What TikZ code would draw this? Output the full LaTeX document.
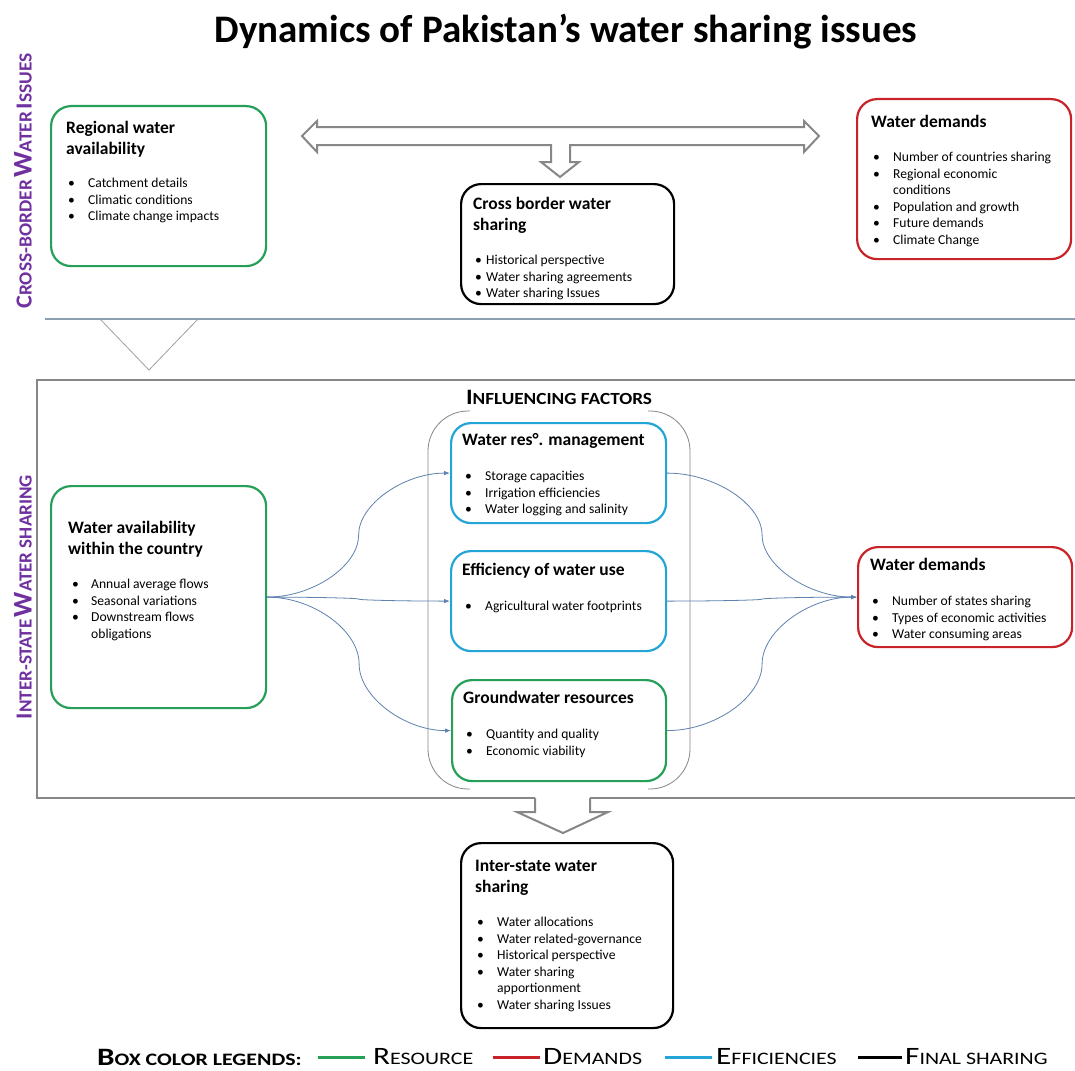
\documentclass[tikz,border=0pt]{standalone}
\usepackage{fontspec}
\usepackage{graphicx}
\setmainfont{Carlito}
\usetikzlibrary{arrows.meta,calc}
\definecolor{cgreen}{RGB}{38,160,88}
\definecolor{cred}{RGB}{200,35,40}
\definecolor{ccyan}{RGB}{35,165,215}
\definecolor{cpurple}{RGB}{112,48,160}
\definecolor{cgray}{RGB}{135,135,135}
\definecolor{cline}{RGB}{95,130,175}
\definecolor{csep}{RGB}{140,160,178}
\newcommand{\capsz}[2]{{\fontsize{#1}{#1}\selectfont #2}}
\newcommand{\xs}[2]{\scalebox{#1}[1]{#2}}
\newcommand{\blist}[2]{\begin{tabular}[t]{@{}p{#1}@{}l@{}}#2\end{tabular}}
\newcommand{\tlines}[1]{\begin{tabular}[t]{@{}l@{}}#1\end{tabular}}
\tikzset{
  box/.style={draw=#1, line width=2.2pt, rounded corners=20pt, fill=white, inner sep=0pt, anchor=north west},
  ttl/.style={anchor=base west, inner sep=0pt, font=\fontsize{17.5}{21}\selectfont\bfseries},
  lst/.style={anchor=base west, inner sep=0pt, font=\fontsize{13.6}{16.5}\selectfont},
  conn/.style={draw=cline, line width=0.8pt, -{Latex[length=6pt,width=4.5pt]}},
  blockarrow/.style={draw=cgray, line width=2pt, fill=white, line join=miter},
  legline/.style={line width=3pt},
  pptcurve/.style={to path={let \p1=(\tikztostart), \p2=(\tikztotarget) in
    .. controls ({(3*\x1+\x2)/4},\y1) and ({(\x1+\x2)/2},{(3*\y1+\y2)/4}) .. ({(\x1+\x2)/2},{(\y1+\y2)/2})
    .. controls ({(\x1+\x2)/2},{(\y1+3*\y2)/4}) and ({(\x1+3*\x2)/4},\y2) .. (\tikztotarget)}}
}
\begin{document}
\begin{tikzpicture}[x=1pt,y=-1pt]
\useasboundingbox (0,0) rectangle (1075,1070);
\clip (0,0) rectangle (1075,1070);
\fill[white] (0,0) rectangle (1075,1070);

% title
\node[font=\fontsize{39}{39}\selectfont\bfseries] (title) at (566,32) {Dynamics of Pakistan’s water sharing issues};

% side labels
\node[rotate=90, font=\bfseries, text=cpurple, inner sep=0pt] (lblcb) at (23,181)
  {\xs{1.05}{\capsz{23}{C}\capsz{18.5}{ROSS-BORDER} \capsz{27}{W}\capsz{18.5}{ATER} \capsz{23}{I}\capsz{18.5}{SSUES}}};
\node[rotate=90, font=\bfseries, text=cpurple, inner sep=0pt] (lblis) at (23,597)
  {\xs{1.03}{\capsz{23}{I}\capsz{18.5}{NTER-STATE} \capsz{27}{W}\capsz{18.5}{ATER SHARING}}};

% separator line and open triangle
\draw[csep, line width=1.2pt] (45,319) -- (1080,319);
\draw[cgray!80, line width=0.8pt] (100,319) -- (149,370) -- (198,319);

% big frame with down block arrow
\draw[blockarrow, fill=none] (535,798) -- (37,798) -- (37,380) -- (1085,380) -- (1085,798) -- (590,798);
\draw[blockarrow] (535,798) -- (535,812) -- (517,812) -- (563,833) -- (608,812) -- (590,812) -- (590,798);

% top double block arrow
\draw[blockarrow] (302,136) -- (317,121) -- (317,127) -- (804,127) -- (804,121) -- (819,136) -- (804,152)
  -- (804,145) -- (570,145) -- (570,162) -- (579,162) -- (560,177) -- (541,162) -- (551,162) -- (551,145)
  -- (317,145) -- (317,152) -- cycle;

% influencing factors bracket
\node[font=\bfseries, inner sep=0pt] (inf) at (559,397) {\xs{1.13}{\capsz{22}{I}\capsz{17}{NFLUENCING FACTORS}}};
\draw[cgray, line width=0.8pt, rounded corners=40pt] (470,411) -- (428,411) -- (428,789) -- (470,789);
\draw[cgray, line width=0.8pt, rounded corners=40pt] (648,411) -- (690,411) -- (690,789) -- (648,789);

% ---------- boxes ----------
\node[box=cgreen, minimum width=215pt, minimum height=160pt] (rwa) at (50,105) {};
\node[ttl] (rwa-t) at (66,133) {\tlines{Regional water\\availability}};
\node[lst] (rwa-l) at (68,187.5) {\blist{20pt}{• & Catchment details\\ • & Climatic conditions\\ • & Climate change impacts}};

\node[box=black, minimum width=213pt, minimum height=120pt] (cbw) at (460,183) {};
\node[ttl] (cbw-t) at (473,209) {\tlines{Cross border water\\sharing}};
\node[lst] (cbw-l) at (475,264.5) {\blist{11pt}{• & Historical perspective\\ • & Water sharing agreements\\ • & Water sharing Issues}};

\node[box=cred, minimum width=214pt, minimum height=160pt] (wd1) at (856,98) {};
\node[ttl] (wd1-t) at (871,127.5) {Water demands};
\node[lst] (wd1-l) at (873,161.5) {\blist{20pt}{• & Number of countries sharing\\ • & Regional economic\\ & conditions\\ • & Population and growth\\ • & Future demands\\ • & Climate Change}};

\node[box=cgreen, minimum width=215pt, minimum height=222pt] (wac) at (50,485) {};
\node[ttl] (wac-t) at (68,533.5) {\tlines{Water availability\\within the country}};
\node[lst] (wac-l) at (72,588.5) {\blist{19pt}{• & Annual average flows\\ • & Seasonal variations\\ • & Downstream flows\\ & obligations}};

\node[box=ccyan, minimum width=215pt, minimum height=100pt] (wrm) at (450,422) {};
\node[ttl] (wrm-t) at (462,445.5) {Water res°. management};
\node[lst] (wrm-l) at (465,480.5) {\blist{20pt}{• & Storage capacities\\ • & Irrigation efficiencies\\ • & Water logging and salinity}};

\node[box=ccyan, minimum width=215pt, minimum height=100pt] (eff) at (450,550) {};
\node[ttl] (eff-t) at (462,575.5) {Efficiency of water use};
\node[lst] (eff-l) at (465,610.5) {\blist{20pt}{• & Agricultural water footprints}};

\node[box=cgreen, minimum width=214pt, minimum height=101pt] (gw) at (451,679) {};
\node[ttl] (gw-t) at (463,703.5) {Groundwater resources};
\node[lst] (gw-l) at (466,738.5) {\blist{20pt}{• & Quantity and quality\\ • & Economic viability}};

\node[box=cred, minimum width=214pt, minimum height=100pt] (wd2) at (857,546) {};
\node[ttl] (wd2-t) at (870,570.5) {Water demands};
\node[lst] (wd2-l) at (872,605.5) {\blist{20pt}{• & Number of states sharing\\ • & Types of economic activities\\ • & Water consuming areas}};

\node[box=black, minimum width=212pt, minimum height=185pt] (iws) at (460,842) {};
\node[ttl] (iws-t) at (475,871.5) {\tlines{Inter-state water\\sharing}};
\node[lst] (iws-l) at (477,926.5) {\blist{20pt}{• & Water allocations\\ • & Water related-governance\\ • & Historical perspective\\ • & Water sharing\\ & apportionment\\ • & Water sharing Issues}};

% ---------- connectors ----------
\draw[conn] (wac.east) to[pptcurve] (wrm.west);
\draw[conn] (wac.east) to[pptcurve] (eff.west);
\draw[conn] (wac.east) to[pptcurve] (gw.west);
\draw[conn] (wrm.east) to[pptcurve] (wd2.west);
\draw[conn] (eff.east) to[pptcurve] (wd2.west);
\draw[conn] (gw.east) to[pptcurve] (wd2.west);

% ---------- legend ----------
\node[anchor=west, font=\bfseries, inner sep=0pt] (lg) at (97,1057) {\xs{1.25}{\capsz{25}{B}\capsz{17.5}{OX COLOR LEGENDS:}}};
\draw[legline, cgreen] (318,1057) -- (365,1057);
\node[anchor=west, inner sep=0pt] (lg1) at (373,1057) {\xs{1.25}{\capsz{25}{R}\capsz{17.5}{ESOURCE}}};
\draw[legline, cred] (493,1057) -- (540,1057);
\node[anchor=west, inner sep=0pt] (lg2) at (543,1057) {\xs{1.25}{\capsz{25}{D}\capsz{17.5}{EMANDS}}};
\draw[legline, ccyan] (665,1057) -- (712,1057);
\node[anchor=west, inner sep=0pt] (lg3) at (716,1057) {\xs{1.25}{\capsz{25}{E}\capsz{17.5}{FFICIENCIES}}};
\draw[legline, black] (858,1057) -- (902,1057);
\node[anchor=west, inner sep=0pt] (lg4) at (905,1057) {\xs{1.25}{\capsz{25}{F}\capsz{17.5}{INAL SHARING}}};
\end{tikzpicture}
\end{document}
